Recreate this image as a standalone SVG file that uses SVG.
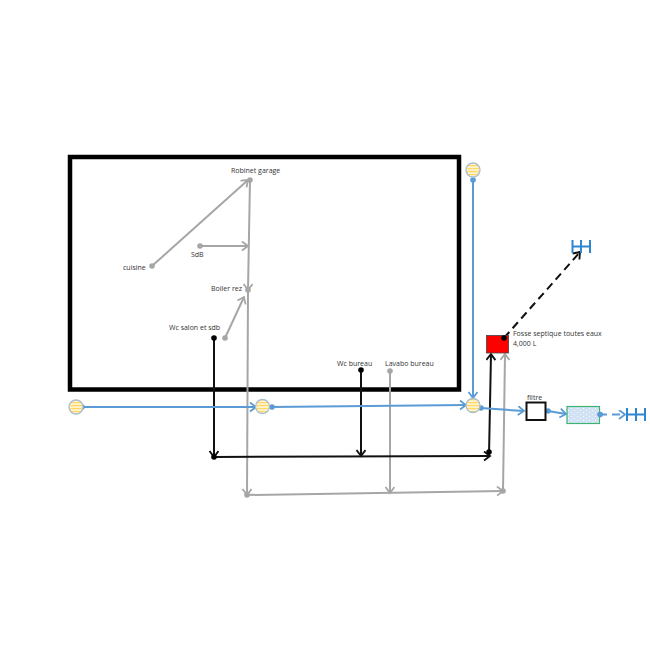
<svg xmlns="http://www.w3.org/2000/svg" width="650" height="649" viewBox="0 0 650 649">
<style>
text{font-family:"Open Sans","Liberation Sans",sans-serif;font-size:7px;fill:#333}
.b{fill:none;stroke:#5b9bd5;stroke-width:2}
.k{fill:none;stroke:#111;stroke-width:2}
.g{fill:none;stroke:#a6a6a6;stroke-width:2}
.tank{fill:url(#st);stroke:#a9bfd0;stroke-width:1.300}
.sink{fill:none;stroke:#2e86d0;stroke-width:2}
</style>
<defs>
<pattern id="st" width="4" height="3" patternUnits="userSpaceOnUse"><rect width="4" height="3" fill="#fff2cc"/><rect width="4" height="1.200" fill="#ffd966"/></pattern>
<pattern id="br" width="6" height="4" patternUnits="userSpaceOnUse"><rect width="6" height="4" fill="#b4cfee"/><path d="M0 1H6M0 3H6" stroke="#fff" stroke-width=".8"/><path d="M1.500 0V1M4.500 2V3" stroke="#fff" stroke-width=".8"/></pattern>
<marker id="ab" markerWidth="10" markerHeight="12" refX="7" refY="5" orient="auto" markerUnits="userSpaceOnUse"><path d="M1 .5L7 5L1 9.500" fill="none" stroke="#5b9bd5" stroke-width="1.800"/></marker>
<marker id="ak" markerWidth="10" markerHeight="12" refX="7" refY="5" orient="auto" markerUnits="userSpaceOnUse"><path d="M1 .5L7 5L1 9.500" fill="none" stroke="#111" stroke-width="1.900"/></marker>
<marker id="ag" markerWidth="10" markerHeight="12" refX="7" refY="5" orient="auto" markerUnits="userSpaceOnUse"><path d="M1 .5L7 5L1 9.500" fill="none" stroke="#a6a6a6" stroke-width="1.800"/></marker>
</defs>
<g id="maison"><rect x="70" y="157" width="389" height="232.500" fill="none" stroke="#000" stroke-width="4.500"/></g>
<g id="connecteurs">
<g class="g">
<path d="M152 266L248 180" marker-end="url(#ag)"/>
<path d="M200 246H248" marker-end="url(#ag)"/>
<path d="M250 180L248 290" marker-end="url(#ag)"/>
<path d="M225 338L244 297" marker-end="url(#ag)"/>
<path d="M248 290L247 495" marker-end="url(#ag)"/>
<path d="M390 371V493" marker-end="url(#ag)"/>
<path d="M247 495L503 491" marker-end="url(#ag)"/>
<path d="M503 491L505 354" marker-end="url(#ag)"/>
</g>
<g class="k">
<path d="M214 338V457" marker-end="url(#ak)"/>
<path d="M361 370V456" marker-end="url(#ak)"/>
<path d="M214 457L490 456" marker-end="url(#ak)"/>
<path d="M489 455L491 354" marker-end="url(#ak)"/>
<path d="M504 338L580 252" stroke-dasharray="8 5" marker-end="url(#ak)"/>
</g>
<g class="b">
<path d="M82 407H256" marker-end="url(#ab)"/>
<path d="M271 407L466 405" marker-end="url(#ab)"/>
<path d="M473 178V398" marker-end="url(#ab)"/>
<path d="M481 408L524 411" marker-end="url(#ab)"/>
<path d="M548 411L566 414" marker-end="url(#ab)"/>
<path d="M599 414.500H625" stroke-dasharray="8 5" marker-end="url(#ab)"/>
</g>
<g fill="#a6a6a6"><circle cx="250" cy="180" r="2.800"/><circle cx="152" cy="266" r="2.800"/><circle cx="200" cy="246" r="2.800"/><circle cx="248" cy="290" r="2.800"/><circle cx="225" cy="338" r="2.800"/><circle cx="390" cy="371" r="2.800"/><circle cx="503" cy="491" r="2.800"/><circle cx="247" cy="495" r="2.800"/></g>
<g fill="#000"><circle cx="214" cy="338" r="2.800"/><circle cx="214" cy="457" r="2.800"/><circle cx="361" cy="370" r="2.800"/><circle cx="489" cy="452" r="2.800"/></g>
<g fill="#5b9bd5"><circle cx="82" cy="407" r="2.800"/><circle cx="272" cy="407" r="2.800"/><circle cx="473" cy="180" r="2.800"/><circle cx="481" cy="408" r="2.800"/><circle cx="548" cy="411" r="2.800"/><circle cx="600" cy="414.500" r="2.800"/></g>
</g>
<g id="regard-1"><circle class="tank" cx="76" cy="407" r="7"/></g>
<g id="regard-2"><circle class="tank" cx="262.500" cy="406.500" r="7"/></g>
<g id="regard-3"><circle class="tank" cx="473" cy="405.500" r="7"/></g>
<g id="regard-4"><circle class="tank" cx="473" cy="170" r="7"/></g>
<g id="fosse"><rect x="486.500" y="335.500" width="22" height="17.500" fill="#f00" stroke="#444" stroke-width=".8"/><circle cx="504" cy="338" r="2.800" fill="#000"/><text x="513" y="336">Fosse septique toutes eaux</text><text x="513" y="346">4,000 L</text></g>
<g id="filtre"><rect x="526.500" y="402.500" width="19" height="17.500" fill="#fff" stroke="#111" stroke-width="2"/><text x="527" y="399.500">filtre</text></g>
<g id="epandage"><rect x="567" y="406.500" width="32.500" height="17" fill="url(#br)" stroke="#3cb371" stroke-width="1.200"/><circle cx="600" cy="414.500" r="2.800" fill="#5b9bd5"/></g>
<g id="rejet-1"><path class="sink" d="M572.500 240V253M581 240V253M590 240V253M572.500 246.500H590"/></g>
<g id="rejet-2"><path class="sink" d="M627 408V421M636 408V421M645 408V421M627 414.500H645"/></g>
<g id="labels">
<text x="231" y="173">Robinet garage</text>
<text x="123" y="270">cuisine</text>
<text x="191" y="257">SdB</text>
<text x="211" y="291">Boiler rez</text>
<text x="169" y="330">Wc salon et sdb</text>
<text x="337" y="366">Wc bureau</text>
<text x="385" y="366">Lavabo bureau</text>
</g>
</svg>
